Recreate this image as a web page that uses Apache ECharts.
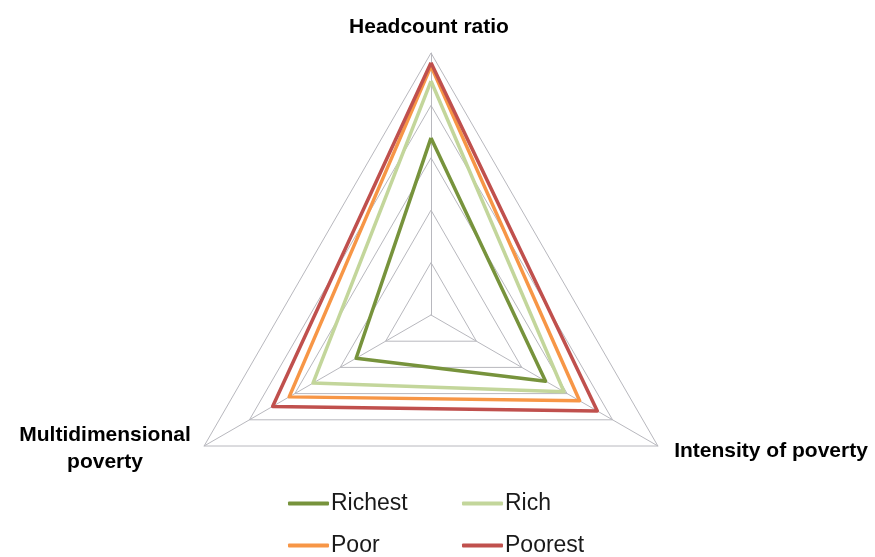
<!DOCTYPE html>
<html>
<head>
<meta charset="utf-8">
<script src="https://cdn.jsdelivr.net/npm/echarts@6/dist/echarts.min.js"></script>
<style>html,body{margin:0;padding:0;background:#fff}#c{width:875px;height:557px}</style>
</head>
<body>
<div id="c"></div>
<script>
// Indicators in ECharts order (top, then counter-clockwise: left, right)
const indicators = ['Headcount ratio', 'Multidimensional\npoverty', 'Intensity of poverty'];
const seriesNames = ['Richest', 'Rich', 'Poor', 'Poorest'];
// values: [Headcount ratio, Multidimensional poverty, Intensity of poverty]
const richest = [67.6, 33, 50.5];
const rich = [89.3, 52, 58.6];
const poor = [95.0, 62.5, 65.5];
const poorest = [96.3, 69.8, 73.3];
const colors = ['#77933C', '#C3D69B', '#F79646', '#C0504D'];

const values = [richest, rich, poor, poorest];
const chart = echarts.init(document.getElementById('c'), null, {renderer: 'canvas'});
const labelFont = {fontFamily: 'Liberation Sans', fontWeight: 'bold', fontSize: 21, fill: '#000'};
const legendPos = [[288, 492], [462, 492], [288, 534], [462, 534]];
chart.setOption({
  animation: false,
  backgroundColor: '#fff',
  radar: {
    center: [431, 315],
    radius: 262,
    startAngle: 90,
    splitNumber: 5,
    indicator: indicators.map(n => ({name: n, min: 0, max: 100})),
    axisName: {show: false},
    splitLine: {lineStyle: {color: '#B8B8BE', width: 1}},
    splitArea: {show: false},
    axisLine: {lineStyle: {color: '#B8B8BE', width: 1}},
    axisTick: {show: false},
    axisLabel: {show: false}
  },
  legend: seriesNames.map((n, i) => ({
    data: [n],
    left: legendPos[i][0],
    top: legendPos[i][1],
    icon: 'roundRect',
    itemWidth: 41,
    itemHeight: 4,
    itemGap: 0,
    padding: 0,
    textStyle: {fontFamily: 'Liberation Sans', fontSize: 23, color: '#1a1a1a', padding: [0, 0, 0, -3]}
  })),
  series: [{
    type: 'radar',
    symbol: 'none',
    data: seriesNames.map((n, i) => ({
      name: n,
      value: values[i],
      lineStyle: {color: colors[i], width: 3.5},
      itemStyle: {color: colors[i]}
    }))
  }],
  graphic: [
    {type: 'text', x: 429, y: 27, style: Object.assign({text: 'Headcount ratio', align: 'center', verticalAlign: 'middle'}, labelFont)},
    {type: 'text', x: 105, y: 449, style: Object.assign({text: 'Multidimensional\npoverty', align: 'center', verticalAlign: 'middle', lineHeight: 27}, labelFont)},
    {type: 'text', x: 771, y: 451, style: Object.assign({text: 'Intensity of poverty', align: 'center', verticalAlign: 'middle'}, labelFont)}
  ]
});
</script>
</body>
</html>
